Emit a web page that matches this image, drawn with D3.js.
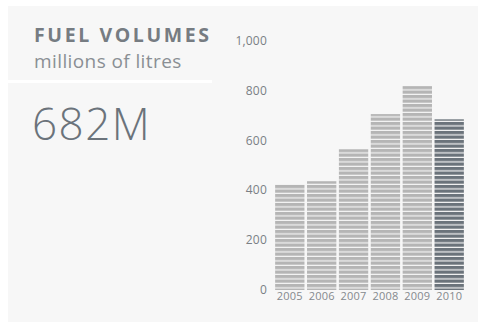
<!DOCTYPE html>
<html><head><meta charset="utf-8">
<script src="https://cdn.jsdelivr.net/npm/d3@7"></script>
<style>
html,body{margin:0;padding:0;background:#fff;}
svg{display:block;}
</style></head>
<body>
<svg id="c" width="485" height="330"></svg>
<script>
const years = ["2005","2006","2007","2008","2009","2010"];
const volumes = [422, 434, 562, 703, 815, 682];
const yTicks = [0, 200, 400, 600, 800, 1000];
const title = "FUEL VOLUMES";
const subtitle = "millions of litres";
const headline = "682M";

const svg = d3.select("#c");
svg.append("rect").attr("x",8).attr("y",6).attr("width",470).attr("height",316).attr("fill","#f7f7f7");
svg.append("rect").attr("x",8).attr("y",80).attr("width",204).attr("height",3).attr("fill","#ffffff");

const defs = svg.append("defs");
function stripe(id, col){
  const p = defs.append("pattern").attr("id",id).attr("patternUnits","userSpaceOnUse")
    .attr("width",10).attr("height",4.5).attr("y",0.5);
  p.append("rect").attr("width",10).attr("height",4.5).attr("fill",col);
  p.append("rect").attr("y",3.3).attr("width",10).attr("height",1.2).attr("fill","#f4f4f4");
}
stripe("sg","#b5b5b5");
stripe("sd","#6b737b");

svg.append("text").attr("x",34).attr("y",42).text(title)
  .attr("font-family","'Open Sans', sans-serif").attr("font-weight",700).attr("font-size",19.5)
  .attr("letter-spacing",2.6).attr("fill","#767c82");
svg.append("text").attr("x",34).attr("y",68).text(subtitle)
  .attr("font-family","'Open Sans', sans-serif").attr("font-weight",400).attr("font-size",19)
  .attr("letter-spacing",0.4).attr("fill","#8a8f94");
svg.append("text").attr("x",32).attr("y",140).text(headline)
  .attr("font-family","'Open Sans', sans-serif").attr("font-weight",300).attr("font-size",44)
  .attr("letter-spacing",1.5).attr("fill","#6b737b");

const x = d3.scaleBand().domain(years).range([274.5, 464.5]).paddingInner(0.08).paddingOuter(0.02);
const y = d3.scaleLinear().domain([0,1000]).range([289.5, 40]);

svg.append("g").selectAll("rect").data(years).join("rect")
  .attr("x", d=>x(d)).attr("width", x.bandwidth())
  .attr("y", (d,i)=>y(volumes[i])).attr("height",(d,i)=>y(0)+0.5-y(volumes[i]))
  .attr("fill",(d,i)=> i===years.length-1 ? "url(#sd)" : "url(#sg)");

const yAxis = d3.axisLeft(y).tickValues(yTicks).tickSize(0).tickPadding(0).tickFormat(d3.format(","));
const gy = svg.append("g").attr("transform","translate(267,0)").call(yAxis);
gy.select(".domain").remove();
gy.selectAll("text").attr("font-family","'Open Sans', sans-serif").attr("font-size",12).attr("letter-spacing",0.2).attr("fill","#7a7f85").attr("dy","0.35em");

const xAxis = d3.axisBottom(x).tickSize(0).tickPadding(0);
const gx = svg.append("g").attr("transform","translate(0,292)").call(xAxis);
gx.select(".domain").remove();
gx.selectAll("text").attr("font-family","'Open Sans', sans-serif").attr("font-size",11).attr("letter-spacing",0.2).attr("fill","#85898e").attr("dy","0.75em");
</script>
</body></html>
